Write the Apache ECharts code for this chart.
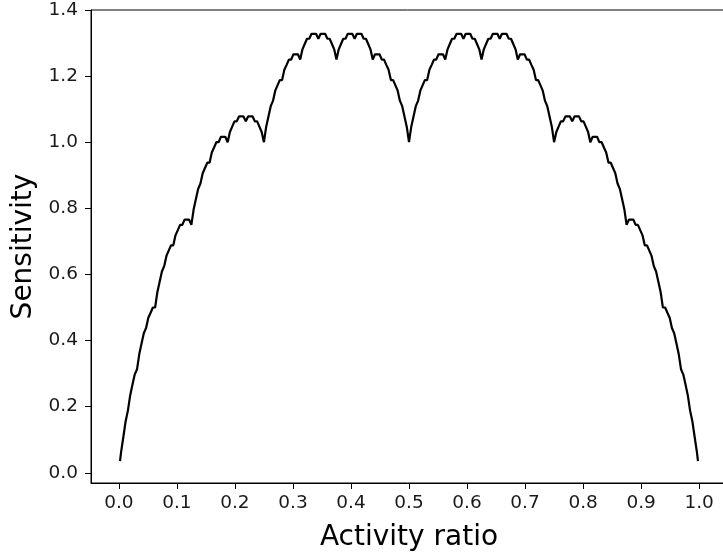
<!DOCTYPE html>
<html>
<head>
<meta charset="utf-8">
<script src="https://cdn.jsdelivr.net/npm/echarts@6/dist/echarts.min.js"></script>
<style>html,body{margin:0;padding:0;background:#fff}#c{width:723px;height:554px}</style>
</head>
<body>
<div id="c"></div>
<script>
const activityRatio = [0.0020,
 0.0039, 0.0078, 0.0117, 0.0156, 0.0195, 0.0234, 0.0273, 0.0313, 0.0352, 0.0391, 0.0430, 0.0469, 0.0508, 0.0547, 0.0586, 0.0625,
 0.0664, 0.0703, 0.0742, 0.0781, 0.0820, 0.0859, 0.0898, 0.0938, 0.0977, 0.1016, 0.1055, 0.1094, 0.1133, 0.1172, 0.1211, 0.1250,
 0.1289, 0.1328, 0.1367, 0.1406, 0.1445, 0.1484, 0.1523, 0.1563, 0.1602, 0.1641, 0.1680, 0.1719, 0.1758, 0.1797, 0.1836, 0.1875,
 0.1914, 0.1953, 0.1992, 0.2031, 0.2070, 0.2109, 0.2148, 0.2188, 0.2227, 0.2266, 0.2305, 0.2344, 0.2383, 0.2422, 0.2461, 0.2500,
 0.2539, 0.2578, 0.2617, 0.2656, 0.2695, 0.2734, 0.2773, 0.2813, 0.2852, 0.2891, 0.2930, 0.2969, 0.3008, 0.3047, 0.3086, 0.3125,
 0.3164, 0.3203, 0.3242, 0.3281, 0.3320, 0.3359, 0.3398, 0.3438, 0.3477, 0.3516, 0.3555, 0.3594, 0.3633, 0.3672, 0.3711, 0.3750,
 0.3789, 0.3828, 0.3867, 0.3906, 0.3945, 0.3984, 0.4023, 0.4063, 0.4102, 0.4141, 0.4180, 0.4219, 0.4258, 0.4297, 0.4336, 0.4375,
 0.4414, 0.4453, 0.4492, 0.4531, 0.4570, 0.4609, 0.4648, 0.4688, 0.4727, 0.4766, 0.4805, 0.4844, 0.4883, 0.4922, 0.4961, 0.5000,
 0.5039, 0.5078, 0.5117, 0.5156, 0.5195, 0.5234, 0.5273, 0.5313, 0.5352, 0.5391, 0.5430, 0.5469, 0.5508, 0.5547, 0.5586, 0.5625,
 0.5664, 0.5703, 0.5742, 0.5781, 0.5820, 0.5859, 0.5898, 0.5938, 0.5977, 0.6016, 0.6055, 0.6094, 0.6133, 0.6172, 0.6211, 0.6250,
 0.6289, 0.6328, 0.6367, 0.6406, 0.6445, 0.6484, 0.6523, 0.6563, 0.6602, 0.6641, 0.6680, 0.6719, 0.6758, 0.6797, 0.6836, 0.6875,
 0.6914, 0.6953, 0.6992, 0.7031, 0.7070, 0.7109, 0.7148, 0.7188, 0.7227, 0.7266, 0.7305, 0.7344, 0.7383, 0.7422, 0.7461, 0.7500,
 0.7539, 0.7578, 0.7617, 0.7656, 0.7695, 0.7734, 0.7773, 0.7813, 0.7852, 0.7891, 0.7930, 0.7969, 0.8008, 0.8047, 0.8086, 0.8125,
 0.8164, 0.8203, 0.8242, 0.8281, 0.8320, 0.8359, 0.8398, 0.8438, 0.8477, 0.8516, 0.8555, 0.8594, 0.8633, 0.8672, 0.8711, 0.8750,
 0.8789, 0.8828, 0.8867, 0.8906, 0.8945, 0.8984, 0.9023, 0.9063, 0.9102, 0.9141, 0.9180, 0.9219, 0.9258, 0.9297, 0.9336, 0.9375,
 0.9414, 0.9453, 0.9492, 0.9531, 0.9570, 0.9609, 0.9648, 0.9688, 0.9727, 0.9766, 0.9805, 0.9844, 0.9883, 0.9922, 0.9961,
 0.9980];
const sensitivity = [0.035,
 0.063, 0.109, 0.156, 0.188, 0.234, 0.266, 0.297, 0.313, 0.359, 0.391, 0.422, 0.438, 0.469, 0.484, 0.500, 0.500,
 0.547, 0.578, 0.609, 0.625, 0.656, 0.672, 0.688, 0.688, 0.719, 0.734, 0.750, 0.750, 0.766, 0.766, 0.766, 0.750,
 0.797, 0.828, 0.859, 0.875, 0.906, 0.922, 0.938, 0.938, 0.969, 0.984, 1.000, 1.000, 1.016, 1.016, 1.016, 1.000,
 1.031, 1.047, 1.063, 1.063, 1.078, 1.078, 1.078, 1.063, 1.078, 1.078, 1.078, 1.063, 1.063, 1.047, 1.031, 1.000,
 1.047, 1.078, 1.109, 1.125, 1.156, 1.172, 1.188, 1.188, 1.219, 1.234, 1.250, 1.250, 1.266, 1.266, 1.266, 1.250,
 1.281, 1.297, 1.313, 1.313, 1.328, 1.328, 1.328, 1.313, 1.328, 1.328, 1.328, 1.313, 1.313, 1.297, 1.281, 1.250,
 1.281, 1.297, 1.313, 1.313, 1.328, 1.328, 1.328, 1.313, 1.328, 1.328, 1.328, 1.313, 1.313, 1.297, 1.281, 1.250,
 1.266, 1.266, 1.266, 1.250, 1.250, 1.234, 1.219, 1.188, 1.188, 1.172, 1.156, 1.125, 1.109, 1.078, 1.047, 1.000,
 1.047, 1.078, 1.109, 1.125, 1.156, 1.172, 1.188, 1.188, 1.219, 1.234, 1.250, 1.250, 1.266, 1.266, 1.266, 1.250,
 1.281, 1.297, 1.313, 1.313, 1.328, 1.328, 1.328, 1.313, 1.328, 1.328, 1.328, 1.313, 1.313, 1.297, 1.281, 1.250,
 1.281, 1.297, 1.313, 1.313, 1.328, 1.328, 1.328, 1.313, 1.328, 1.328, 1.328, 1.313, 1.313, 1.297, 1.281, 1.250,
 1.266, 1.266, 1.266, 1.250, 1.250, 1.234, 1.219, 1.188, 1.188, 1.172, 1.156, 1.125, 1.109, 1.078, 1.047, 1.000,
 1.031, 1.047, 1.063, 1.063, 1.078, 1.078, 1.078, 1.063, 1.078, 1.078, 1.078, 1.063, 1.063, 1.047, 1.031, 1.000,
 1.016, 1.016, 1.016, 1.000, 1.000, 0.984, 0.969, 0.938, 0.938, 0.922, 0.906, 0.875, 0.859, 0.828, 0.797, 0.750,
 0.766, 0.766, 0.766, 0.750, 0.750, 0.734, 0.719, 0.688, 0.688, 0.672, 0.656, 0.625, 0.609, 0.578, 0.547, 0.500,
 0.500, 0.484, 0.469, 0.438, 0.422, 0.391, 0.359, 0.313, 0.297, 0.266, 0.234, 0.188, 0.156, 0.109, 0.063,
 0.035];
const xTicks = [0.0, 0.1, 0.2, 0.3, 0.4, 0.5, 0.6, 0.7, 0.8, 0.9, 1.0];
const yTicks = [0.0, 0.2, 0.4, 0.6, 0.8, 1.0, 1.2, 1.4];

const chart = echarts.init(document.getElementById('c'), null, {renderer: 'canvas'});
const font = 'DejaVu Sans';
const data = activityRatio.map((x, i) => [x, sensitivity[i]]);
chart.setOption({
  animation: false,
  backgroundColor: '#fff',
  grid: {left: 91, top: 10, width: 636, height: 473, containLabel: false, outerBoundsMode: 'none',
         show: true, borderColor: '#000', borderWidth: 1, backgroundColor: 'transparent'},
  xAxis: {
    type: 'value', min: -0.048, max: 1.048,
    name: 'Activity ratio', nameLocation: 'middle', nameGap: 41,
    nameTextStyle: {fontSize: 28, fontFamily: font, color: '#000'},
    axisLine: {show: true, onZero: false, lineStyle: {color: '#000', width: 1}},
    axisTick: {show: true, customValues: xTicks, length: 6, lineStyle: {color: '#000', width: 1}},
    axisLabel: {customValues: xTicks, formatter: v => v.toFixed(1), fontSize: 18.5, fontFamily: font, color: '#1a1a1a', margin: 11},
    splitLine: {show: false}
  },
  yAxis: {
    type: 'value', min: -0.031, max: 1.4,
    name: 'Sensitivity', nameLocation: 'middle', nameGap: 49,
    nameTextStyle: {fontSize: 28, fontFamily: font, color: '#000'},
    axisLine: {show: true, onZero: false, lineStyle: {color: '#000', width: 1}},
    axisTick: {show: true, customValues: yTicks, length: 6, lineStyle: {color: '#000', width: 1}},
    axisLabel: {customValues: yTicks, formatter: v => v.toFixed(1), fontSize: 18.5, fontFamily: font, color: '#1a1a1a', margin: 13},
    splitLine: {show: false}
  },
  series: [{
    type: 'line', data: data, showSymbol: false, symbol: 'none',
    lineStyle: {color: '#000', width: 2.2}, smooth: false, clip: false
  }]
});
</script>
</body>
</html>
